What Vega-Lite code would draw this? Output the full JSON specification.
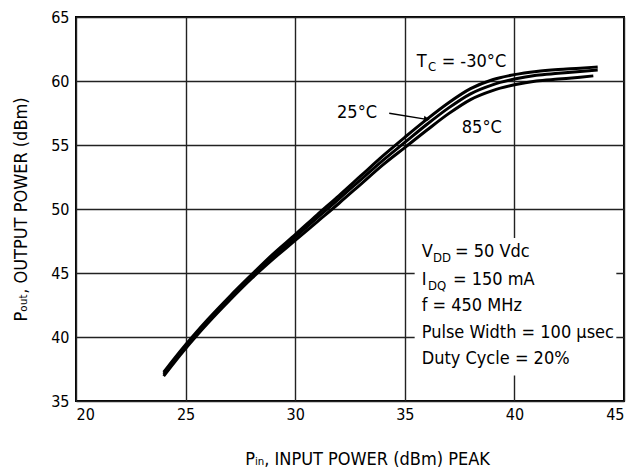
{
  "$schema": "https://vega.github.io/schema/vega-lite/v6.json",
  "width": 548,
  "height": 384,
  "autosize": {"type": "none"},
  "padding": {"left": 76, "top": 17, "right": 13, "bottom": 75},
  "background": "white",
  "config": {
    "font": "Liberation Sans Narrow, DejaVu Sans Condensed, Liberation Sans, sans-serif",
    "view": {"stroke": "black", "strokeWidth": 2},
    "axis": {
      "grid": true, "gridColor": "#222", "gridWidth": 1.4, "domain": false, "ticks": false,
      "labelFont": "Liberation Sans Narrow, DejaVu Sans Condensed, Liberation Sans, sans-serif", "labelFontSize": 16, "labelColor": "black",
      "titleFont": "Liberation Sans Narrow, DejaVu Sans Condensed, Liberation Sans, sans-serif", "titleFontSize": 18, "titleFontWeight": "normal", "titleColor": "black"
    }
  },
  "datasets": {
    "curves": [
      {"pin": 24.0, "pout": 37.25, "tc": "-30°C"},
      {"pin": 24.5, "pout": 38.35, "tc": "-30°C"},
      {"pin": 25.0, "pout": 39.4, "tc": "-30°C"},
      {"pin": 25.5, "pout": 40.4, "tc": "-30°C"},
      {"pin": 26.0, "pout": 41.35, "tc": "-30°C"},
      {"pin": 27.0, "pout": 43.15, "tc": "-30°C"},
      {"pin": 28.0, "pout": 44.85, "tc": "-30°C"},
      {"pin": 29.0, "pout": 46.5, "tc": "-30°C"},
      {"pin": 30.0, "pout": 48.0, "tc": "-30°C"},
      {"pin": 31.0, "pout": 49.55, "tc": "-30°C"},
      {"pin": 32.0, "pout": 51.05, "tc": "-30°C"},
      {"pin": 33.0, "pout": 52.6, "tc": "-30°C"},
      {"pin": 34.0, "pout": 54.15, "tc": "-30°C"},
      {"pin": 35.0, "pout": 55.6, "tc": "-30°C"},
      {"pin": 36.0, "pout": 57.0, "tc": "-30°C"},
      {"pin": 37.0, "pout": 58.3, "tc": "-30°C"},
      {"pin": 38.0, "pout": 59.4, "tc": "-30°C"},
      {"pin": 39.0, "pout": 60.1, "tc": "-30°C"},
      {"pin": 40.0, "pout": 60.5, "tc": "-30°C"},
      {"pin": 41.0, "pout": 60.75, "tc": "-30°C"},
      {"pin": 42.0, "pout": 60.9, "tc": "-30°C"},
      {"pin": 43.0, "pout": 61.0, "tc": "-30°C"},
      {"pin": 43.8, "pout": 61.1, "tc": "-30°C"},
      {"pin": 24.0, "pout": 37.1, "tc": "25°C"},
      {"pin": 24.5, "pout": 38.2, "tc": "25°C"},
      {"pin": 25.0, "pout": 39.25, "tc": "25°C"},
      {"pin": 25.5, "pout": 40.25, "tc": "25°C"},
      {"pin": 26.0, "pout": 41.2, "tc": "25°C"},
      {"pin": 27.0, "pout": 43.0, "tc": "25°C"},
      {"pin": 28.0, "pout": 44.7, "tc": "25°C"},
      {"pin": 29.0, "pout": 46.3, "tc": "25°C"},
      {"pin": 30.0, "pout": 47.8, "tc": "25°C"},
      {"pin": 31.0, "pout": 49.3, "tc": "25°C"},
      {"pin": 32.0, "pout": 50.8, "tc": "25°C"},
      {"pin": 33.0, "pout": 52.3, "tc": "25°C"},
      {"pin": 34.0, "pout": 53.8, "tc": "25°C"},
      {"pin": 35.0, "pout": 55.2, "tc": "25°C"},
      {"pin": 36.0, "pout": 56.6, "tc": "25°C"},
      {"pin": 37.0, "pout": 57.9, "tc": "25°C"},
      {"pin": 38.0, "pout": 59.0, "tc": "25°C"},
      {"pin": 39.0, "pout": 59.7, "tc": "25°C"},
      {"pin": 40.0, "pout": 60.15, "tc": "25°C"},
      {"pin": 41.0, "pout": 60.45, "tc": "25°C"},
      {"pin": 42.0, "pout": 60.6, "tc": "25°C"},
      {"pin": 43.0, "pout": 60.75, "tc": "25°C"},
      {"pin": 43.8, "pout": 60.85, "tc": "25°C"},
      {"pin": 24.0, "pout": 36.95, "tc": "85°C"},
      {"pin": 24.5, "pout": 38.05, "tc": "85°C"},
      {"pin": 25.0, "pout": 39.1, "tc": "85°C"},
      {"pin": 25.5, "pout": 40.1, "tc": "85°C"},
      {"pin": 26.0, "pout": 41.05, "tc": "85°C"},
      {"pin": 27.0, "pout": 42.85, "tc": "85°C"},
      {"pin": 28.0, "pout": 44.55, "tc": "85°C"},
      {"pin": 29.0, "pout": 46.1, "tc": "85°C"},
      {"pin": 30.0, "pout": 47.55, "tc": "85°C"},
      {"pin": 31.0, "pout": 49.0, "tc": "85°C"},
      {"pin": 32.0, "pout": 50.45, "tc": "85°C"},
      {"pin": 33.0, "pout": 51.95, "tc": "85°C"},
      {"pin": 34.0, "pout": 53.45, "tc": "85°C"},
      {"pin": 35.0, "pout": 54.8, "tc": "85°C"},
      {"pin": 36.0, "pout": 56.15, "tc": "85°C"},
      {"pin": 37.0, "pout": 57.45, "tc": "85°C"},
      {"pin": 38.0, "pout": 58.55, "tc": "85°C"},
      {"pin": 39.0, "pout": 59.25, "tc": "85°C"},
      {"pin": 40.0, "pout": 59.7, "tc": "85°C"},
      {"pin": 41.0, "pout": 60.0, "tc": "85°C"},
      {"pin": 42.0, "pout": 60.15, "tc": "85°C"},
      {"pin": 43.0, "pout": 60.3, "tc": "85°C"},
      {"pin": 43.6, "pout": 60.4, "tc": "85°C"}
    ],
    "labels": [
      {"pin": 31.91, "pout": 57.1, "t": "25°C"},
      {"pin": 37.6, "pout": 55.91, "t": "85°C"},
      {"pin": 35.54, "pout": 61.09, "t": "T"},
      {"pin": 36.68, "pout": 61.09, "t": "= -30°C"},
      {"pin": 35.77, "pout": 46.25, "t": "V"},
      {"pin": 37.29, "pout": 46.25, "t": "= 50 Vdc"},
      {"pin": 35.77, "pout": 44.06, "t": "I"},
      {"pin": 37.2, "pout": 44.06, "t": "= 150 mA"},
      {"pin": 35.77, "pout": 42.03, "t": "f = 450 MHz"},
      {"pin": 35.77, "pout": 39.92, "t": "Pulse Width = 100 μsec"},
      {"pin": 35.77, "pout": 37.89, "t": "Duty Cycle = 20%"}
    ],
    "subs": [
      {"pin": 36.06, "pout": 60.78, "t": "C"},
      {"pin": 36.29, "pout": 45.86, "t": "DD"},
      {"pin": 36.06, "pout": 43.67, "t": "DQ"}
    ],
    "arrow": [
      {"pin": 34.29, "pout": 57.48},
      {"pin": 36.0, "pout": 57.0}
    ],
    "head": [
      {"pin": 36.0, "pout": 57.0}
    ]
  },
  "encoding": {
    "x": {"field": "pin", "type": "quantitative",
      "scale": {"domain": [20, 45], "nice": false},
      "axis": {"values": [20, 25, 30, 35, 40, 45], "title": "Pᵢₙ, INPUT POWER (dBm) PEAK", "labelPadding": 5, "titlePadding": 28, "titleX": 291, "titleAnchor": "middle"}},
    "y": {"field": "pout", "type": "quantitative",
      "scale": {"domain": [35, 65], "nice": false},
      "axis": {"values": [35, 40, 45, 50, 55, 60, 65], "title": "Pₒᵤₜ, OUTPUT POWER (dBm)", "labelPadding": 7, "titlePadding": 20}}
  },
  "layer": [
    {
      "data": {"name": "curves"},
      "mark": {"type": "line", "color": "black", "strokeWidth": 3, "interpolate": "monotone"},
      "encoding": {
        "detail": {"field": "tc"}
      }
    },
    {
      "data": {"values": [{"pin": 35.45, "pin2": 44.65, "pout": 47.73, "pout2": 37.0}]},
      "mark": {"type": "rect", "color": "white"},
      "encoding": {
        "x2": {"field": "pin2"},
        "y2": {"field": "pout2"}
      }
    },
    {
      "data": {"name": "arrow"},
      "mark": {"type": "line", "color": "black", "strokeWidth": 1.3}
    },
    {
      "data": {"name": "head"},
      "mark": {"type": "point", "shape": "triangle-right", "filled": true, "color": "black", "size": 45, "angle": 9, "opacity": 1}
    },
    {
      "data": {"name": "labels"},
      "mark": {"type": "text", "align": "left", "baseline": "alphabetic", "fontSize": 18, "color": "black"},
      "encoding": {
        "text": {"field": "t"}
      }
    },
    {
      "data": {"name": "subs"},
      "mark": {"type": "text", "align": "left", "baseline": "alphabetic", "fontSize": 13, "color": "black"},
      "encoding": {
        "text": {"field": "t"}
      }
    }
  ]
}
